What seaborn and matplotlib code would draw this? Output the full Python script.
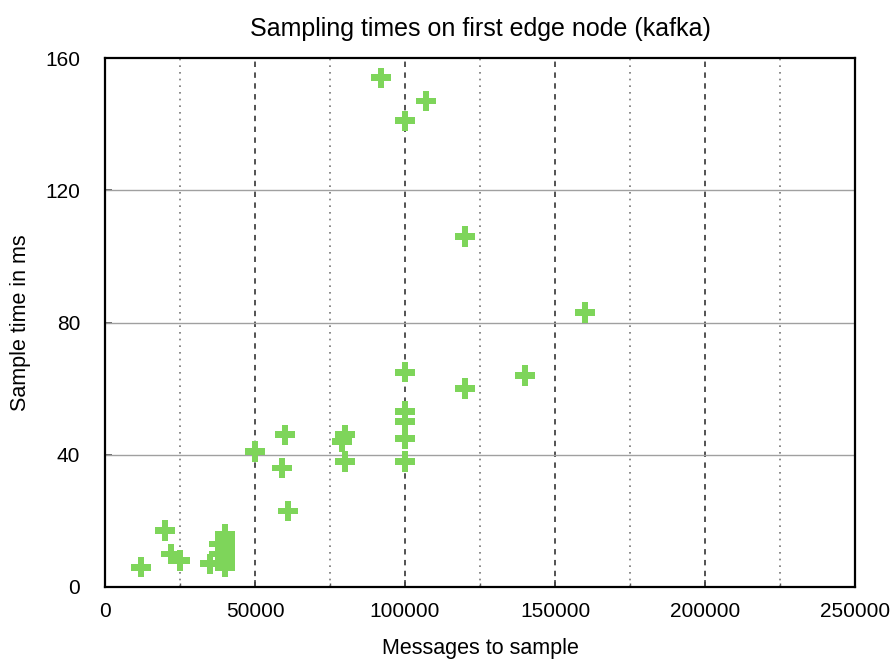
import matplotlib
matplotlib.use("Agg")
import matplotlib.pyplot as plt
import seaborn as sns
import pandas as pd
from matplotlib.ticker import MultipleLocator

messages = [12000, 20000, 22000, 25000, 35000, 38000, 38000, 40000, 40000, 40000,
            40000, 40000, 40000, 50000, 59000, 60000, 61000, 79000, 80000, 80000,
            92000, 100000, 100000, 100000, 100000, 100000, 100000, 107000,
            120000, 120000, 140000, 160000]
sample_ms = [6, 17, 10, 8, 7, 10, 13, 6, 8, 10, 12, 14, 16, 41, 36, 46, 23, 44, 46, 38,
             154, 141, 65, 53, 50, 45, 38, 147,
             106, 60, 64, 83]

df = pd.DataFrame({"Messages to sample": messages, "Sample time in ms": sample_ms})

sns.set_theme(style="white")
plt.rcParams['font.family'] = ['Liberation Sans', 'DejaVu Sans']
plt.rcParams['text.color'] = 'black'
plt.rcParams['axes.labelcolor'] = 'black'
plt.rcParams['xtick.color'] = 'black'
plt.rcParams['ytick.color'] = 'black'

fig = plt.figure(figsize=(8.93, 6.6), dpi=100)
ax = fig.add_axes([105/893, 73/660, 750/893, 529/660])

ax.set_xlim(0, 250000)
ax.set_ylim(0, 160)
ax.xaxis.set_major_locator(MultipleLocator(50000))
ax.xaxis.set_minor_locator(MultipleLocator(25000))
ax.yaxis.set_major_locator(MultipleLocator(40))

for xv in range(25000, 250000, 50000):
    ax.axvline(xv, color='#777777', linestyle=(0, (1, 3)), linewidth=1.2, zorder=1)
for xv in range(50000, 250000, 50000):
    ax.axvline(xv, color='#444444', linestyle=(0, (3, 3)), linewidth=1.3, zorder=1)
for yv in (40, 80, 120):
    ax.axhline(yv, color='#a0a0a0', linestyle='-', linewidth=1.0, zorder=1)

sns.scatterplot(data=df, x="Messages to sample", y="Sample time in ms", ax=ax,
                marker='P', s=220, color='#7ed55a', edgecolor='none', zorder=3)

for sp in ax.spines.values():
    sp.set_color('black')
    sp.set_linewidth(1.6)

ax.tick_params(axis='both', which='both', direction='in', labelsize=15,
               bottom=True, left=True, labelcolor='black')
ax.tick_params(axis='both', which='major', length=5, color='#555555')
ax.tick_params(axis='x', which='minor', length=3, color='#555555')
ax.tick_params(axis='x', which='both', pad=11)
ax.tick_params(axis='y', which='both', pad=18)

ax.set_xlabel("Messages to sample", fontsize=15.5, labelpad=12)
ax.set_ylabel("Sample time in ms", fontsize=15.5, labelpad=10)
ax.set_title("Sampling times on first edge node (kafka)", fontsize=18, pad=16)

fig.savefig("out.png", dpi=100, facecolor='white')
